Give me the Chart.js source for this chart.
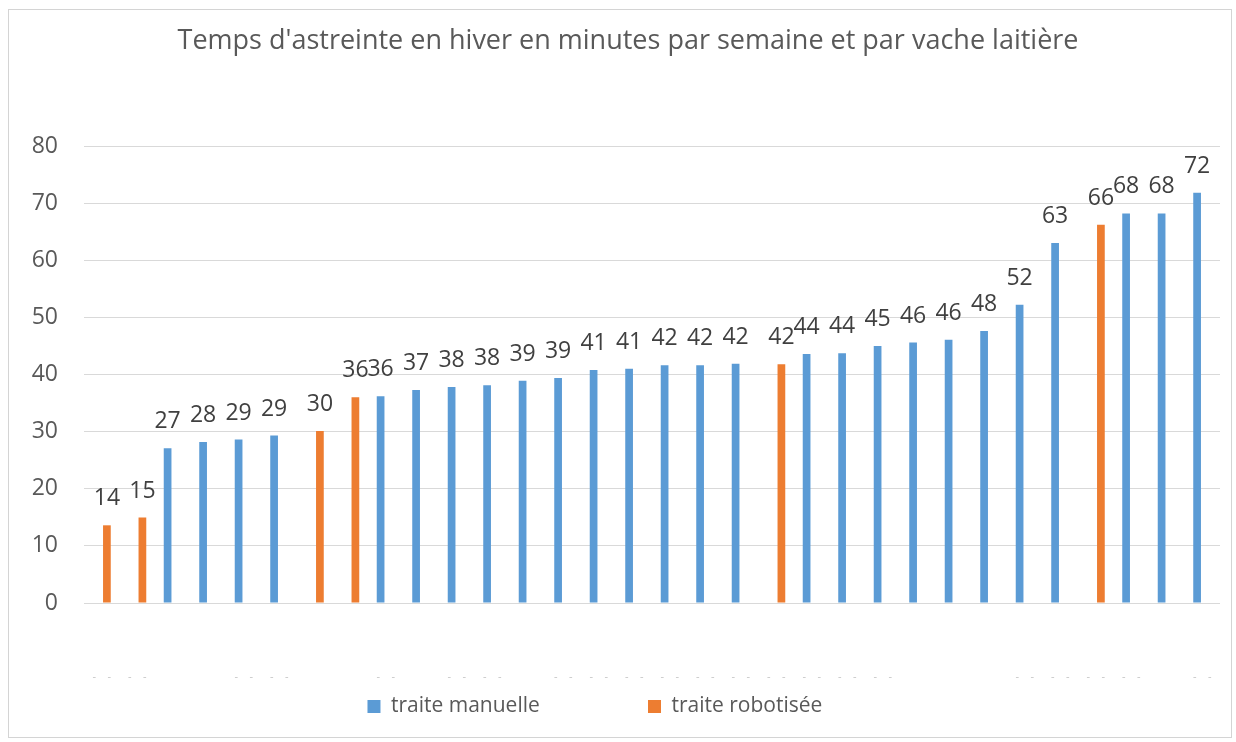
<!DOCTYPE html>
<html lang="fr">
<head>
<meta charset="utf-8">
<title>Temps d'astreinte</title>
<script src="https://cdn.jsdelivr.net/npm/chart.js@4.4.1/dist/chart.umd.min.js"></script>
<style>
  html, body { margin: 0; padding: 0; background: #fff; }
  #wrap { position: absolute; left: 0; top: 0; width: 1236px; height: 742px; }
  #frame { position: absolute; left: 8px; top: 9px; width: 1222px; height: 727px; border: 1px solid #d4d4d4; pointer-events: none; }
</style>
</head>
<body>
<div id="wrap"><canvas id="chart"></canvas></div>
<div id="frame"></div>
<script>
const chartTitle = "Temps d'astreinte en hiver en minutes par semaine et par vache laitière";
const seriesNames = ["traite manuelle", "traite robotisée"];

// one category per farm; the original axis labels are only faint dashes
const categories = [
  "-    -", "-    -", "", "", "-    -", "-    -", "", "", "-    -", "", "-    -",
  "-    -", "", "-    -", "-    -", "-    -", "-    -", "-    -", "-    -", "-    -",
  "-    -", "-    -", "-    -", "", "", "", "-    -", "-    -", "-    -", "-    -", "", "-    -",
];

const manualValues = [
  null, null, 27.1, 28.2, 28.6, 29.3, null, null, 36.2, 37.3, 37.8,
  38.1, 38.9, 39.4, 40.8, 41.0, 41.6, 41.6, 41.9, null,
  43.6, 43.7, 45.0, 45.6, 46.1, 47.6, 52.2, 63.0, null, 68.2, 68.2, 71.8,
];
const robotValues = [
  13.6, 14.95, null, null, null, null, 30.1, 36.0, null, null, null,
  null, null, null, null, null, null, null, null, 41.8,
  null, null, null, null, null, null, null, null, 66.2, null, null, null,
];

const textColor = "#595959";
Chart.defaults.font.family = "'Open Sans', sans-serif";

// rounded value above each bar, like Excel data labels
const valueLabels = {
  id: "valueLabels",
  afterDatasetsDraw(chart) {
    const ctx = chart.ctx;
    ctx.save();
    ctx.font = "23px 'Open Sans', sans-serif";
    ctx.fillStyle = "#404040";
    ctx.textAlign = "center";
    ctx.textBaseline = "alphabetic";
    chart.data.datasets.forEach((ds, i) => {
      chart.getDatasetMeta(i).data.forEach((bar, j) => {
        const v = ds.data[j];
        if (v === null || v === undefined) return;
        ctx.fillText(String(Math.round(v)), bar.x, bar.y - 20);
      });
    });
    ctx.restore();
  },
};

new Chart(document.getElementById("chart"), {
  type: "bar",
  data: {
    labels: categories,
    datasets: [
      { label: seriesNames[0], data: manualValues, backgroundColor: "#5b9bd5", categoryPercentage: 0.58, barPercentage: 0.75 },
      { label: seriesNames[1], data: robotValues, backgroundColor: "#ed7d31", categoryPercentage: 0.58, barPercentage: 0.75 },
    ],
  },
  options: {
    responsive: true,
    maintainAspectRatio: false,
    animation: false,
    layout: { padding: { left: 8, right: 16, top: 25, bottom: 15 } },
    plugins: {
      title: {
        display: true,
        // leading spaces nudge the centred title right, as in the original
        text: "    " + chartTitle,
        color: textColor,
        font: { size: 27, weight: "normal" },
        padding: { top: 0, bottom: 88.6 },
      },
      legend: {
        position: "bottom",
        labels: {
          color: textColor,
          font: { size: 21 },
          boxWidth: 13,
          boxHeight: 13,
          padding: 10,
          generateLabels(chart) {
            const items = Chart.defaults.plugins.legend.labels.generateLabels(chart);
            items.forEach((item, i) => { item.text += " ".repeat(i === 0 ? 18 : 7); });
            return items;
          },
        },
      },
      tooltip: { enabled: false },
    },
    scales: {
      x: {
        grid: { display: false },
        border: { display: false },
        // tall line height pushes the faint labels down without widening the side padding
        ticks: { autoSkip: false, maxRotation: 0, minRotation: 0, color: "#c4c4c4", font: { size: 11, lineHeight: "128px" }, padding: 2 },
        afterFit(scale) { scale.height = 83; },
      },
      y: {
        min: 0,
        max: 80,
        ticks: { stepSize: 10, padding: 26, color: textColor, font: { size: 23 } },
        grid: { color: "#d9d9d9", drawTicks: false },
        border: { display: false },
        afterFit(scale) { scale.width = 76; },
      },
    },
  },
  plugins: [valueLabels],
});
</script>
</body>
</html>
